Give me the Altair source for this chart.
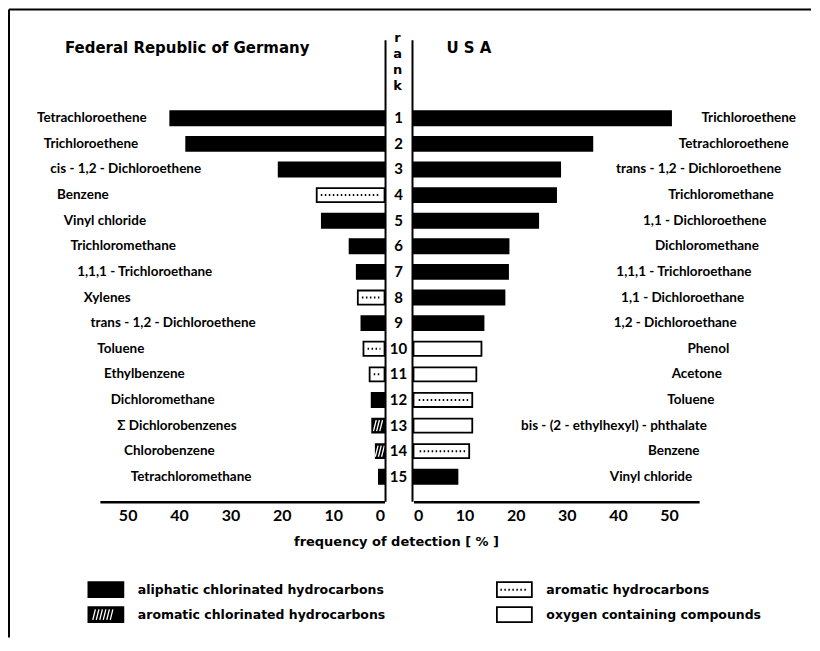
import altair as alt
import pandas as pd

# ---------------- data ----------------
ranks = list(range(1, 16))

de_names = ["Tetrachloroethene", "Trichloroethene", "cis - 1,2 - Dichloroethene", "Benzene",
            "Vinyl  chloride", "Trichloromethane", "1,1,1 - Trichloroethane", "Xylenes",
            "trans - 1,2 - Dichloroethene", "Toluene", "Ethylbenzene", "Dichloromethane",
            "Σ  Dichlorobenzenes", "Chlorobenzene", "Tetrachloromethane"]
de_values = [41.7, 38.6, 20.6, 13.2, 12.2, 6.8, 5.4, 5.2, 4.5, 4.1, 2.9, 2.5, 2.4, 1.7, 1.1]
de_groups = ["aliph", "aliph", "aliph", "arom", "aliph", "aliph", "aliph", "arom",
             "aliph", "arom", "arom", "aliph", "aromCl", "aromCl", "aliph"]

us_names = ["Trichloroethene", "Tetrachloroethene", "trans - 1,2 - Dichloroethene", "Trichloromethane",
            "1,1 - Dichloroethene", "Dichloromethane", "1,1,1 - Trichloroethane", "1,1 - Dichloroethane",
            "1,2 - Dichloroethane", "Phenol", "Acetone", "Toluene",
            "bis - (2 - ethylhexyl) - phthalate", "Benzene", "Vinyl chloride"]
us_values = [50.4, 35.0, 28.7, 27.9, 24.4, 18.6, 18.5, 17.8, 13.7, 13.3, 12.3, 11.5, 11.5, 10.9, 8.6]
us_groups = ["aliph"] * 9 + ["oxy", "oxy", "arom", "oxy", "arom", "aliph"]

group_keys = ["aliph", "aromCl", "arom", "oxy"]
group_labels = ["aliphatic  chlorinated  hydrocarbons", "aromatic  chlorinated  hydrocarbons",
                "aromatic  hydrocarbons", "oxygen  containing  compounds"]
legend_col = [0, 0, 1, 1]
legend_row = [0, 1, 0, 1]
tick_values = [0, 10, 20, 30, 40, 50]

# ---------------- styling ----------------
NARROW = "Lato, sans-serif"
WIDE = "DejaVu Sans, sans-serif"
HATCH_BAR = "M-0.7,0.8L-0.3,-0.8M-0.25,0.8L0.15,-0.8M0.2,0.8L0.6,-0.8"
HATCH_LEG = ("M-0.75,0.3L-0.6,-0.3M-0.55,0.3L-0.4,-0.3M-0.35,0.3L-0.2,-0.3"
             "M-0.15,0.3L0,-0.3M0.05,0.3L0.2,-0.3M0.25,0.3L0.4,-0.3")
RECT_LEG = "M-1,-0.43H1V0.43H-1Z"
DOT_LEG = "M-0.8,0H0.8"

de = pd.DataFrame({"rank": ranks, "name": de_names, "value": de_values, "group": de_groups})
us = pd.DataFrame({"rank": ranks, "name": us_names, "value": us_values, "group": us_groups})
leg = pd.DataFrame({"group": group_keys, "label": group_labels, "col": legend_col, "row": legend_row})
one = pd.DataFrame({"k": [0]})

yscale = alt.Scale(domain=ranks, range=[97.2, 481.8], paddingInner=0.45, paddingOuter=0.225)
fill_scale = alt.Scale(domain=group_keys, range=["black", "black", "white", "white"])
Y = alt.Y("rank:O", scale=yscale, axis=None)

axis_style = dict(values=tick_values, orient="bottom", offset=-136, title=None, grid=False, ticks=False,
                  domainColor="black", domainWidth=2.5, labelFont=NARROW, labelFontSize=16,
                  labelFontWeight="bold", labelColor="black", labelPadding=6)


def side(df, xdomain, xrange, lab_range, lab_align):
    xs = alt.Scale(domain=xdomain, range=xrange, nice=False)
    base = alt.Chart(df)
    bars = base.mark_bar(stroke="black", strokeWidth=1.8).encode(
        x=alt.X("value:Q", scale=xs, axis=alt.Axis(**axis_style)),
        y=Y,
        fill=alt.Fill("group:N", scale=fill_scale, legend=None),
    )
    dots = base.transform_filter("datum.group == 'arom'").transform_calculate(
        v1="datum.value - 0.8"
    ).mark_rule(strokeDash=[1.5, 2.5], strokeWidth=2, color="black").encode(
        x=alt.X("v1:Q", scale=xs, axis=None), x2=alt.datum(0.8), y=Y
    )
    hatch = base.transform_filter("datum.group == 'aromCl'").transform_calculate(
        h="datum.value / 2"
    ).mark_point(shape=HATCH_BAR, size=196, color="white", strokeWidth=1.3, opacity=1, filled=False).encode(
        x=alt.X("h:Q", scale=xs, axis=None), y=Y
    )
    labels = base.mark_text(align=lab_align, baseline="middle", font=NARROW, fontSize=13.5,
                            fontWeight="bold", color="black").encode(
        x=alt.X("rank:Q", scale=alt.Scale(domain=[1, 15], range=lab_range), axis=None),
        y=Y,
        text="name:N",
    )
    return [bars, dots, hatch, labels]


left_layers = side(de, [0, 55.4], [377, 92], [29, 122.9], "left")
right_layers = side(us, [0, 55.9], [406, 692], [789, 685], "right")

rank_nums = alt.Chart(de).mark_text(font=NARROW, fontSize=15, fontWeight="bold", color="black",
                                    baseline="middle", align="center").encode(
    x=alt.value(391), y=Y, text="rank:N"
)

vlines = [
    alt.Chart(one).mark_rule(color="black", strokeWidth=2).encode(
        x=alt.value(xv), y=alt.value(32), y2=alt.value(494))
    for xv in (378, 405)
]

frame = [
    alt.Chart(one).mark_rule(color="black", strokeWidth=2).encode(
        x=alt.value(1), x2=alt.value(804), y=alt.value(1)),
    alt.Chart(one).mark_rule(color="black", strokeWidth=2).encode(
        x=alt.value(1), y=alt.value(1), y2=alt.value(630)),
]

title_de = alt.Chart(one).mark_text(text="Federal Republic of Germany", font=WIDE, fontSize=15,
                                    fontWeight="bold", align="left", baseline="middle",
                                    color="black").encode(x=alt.value(57), y=alt.value(40))
title_us = alt.Chart(one).mark_text(text="U S A", font=WIDE, fontSize=15, fontWeight="bold",
                                    align="left", baseline="middle",
                                    color="black").encode(x=alt.value(439), y=alt.value(40))
rank_word = alt.Chart(one).mark_text(text=["r", "a", "n", "k"], lineHeight=16, font=WIDE,
                                     fontSize=13, fontWeight="bold", align="center",
                                     baseline="middle", color="black").encode(
    x=alt.value(390), y=alt.value(30))
xtitle = alt.Chart(one).mark_text(text="frequency of detection  [ % ]", font=WIDE, fontSize=13,
                                  fontWeight="bold", align="center", baseline="middle",
                                  color="black").encode(x=alt.value(389), y=alt.value(534))

# ---------------- legend (drawn from the legend table) ----------------
lx = alt.Scale(domain=[0, 1], range=[98, 507])
ly = alt.Scale(domain=[0, 1], range=[582, 607])
LX = alt.X("col:Q", scale=lx, axis=None)
LY = alt.Y("row:Q", scale=ly, axis=None)
leg_base = alt.Chart(leg)
leg_sw = leg_base.mark_point(shape=RECT_LEG, size=1225, filled=True, stroke="black",
                             strokeWidth=1.8, opacity=1).encode(
    x=LX, y=LY, fill=alt.Fill("group:N", scale=fill_scale, legend=None))
leg_dots = leg_base.transform_filter("datum.group == 'arom'").mark_point(
    shape=DOT_LEG, size=1225, filled=False, color="black", strokeWidth=2,
    strokeDash=[1.5, 2.5], opacity=1).encode(x=LX, y=LY)
leg_hatch = leg_base.transform_filter("datum.group == 'aromCl'").mark_point(
    shape=HATCH_LEG, size=1225, filled=False, color="white", strokeWidth=1.3, opacity=1).encode(x=LX, y=LY)
leg_txt = leg_base.mark_text(align="left", baseline="middle", dx=32, font=WIDE, fontSize=12.5,
                             fontWeight="bold", color="black").encode(x=LX, y=LY, text="label:N")

chart = alt.layer(
    *left_layers, *right_layers, rank_nums, *vlines, *frame, title_de, title_us, rank_word, xtitle,
    leg_sw, leg_dots, leg_hatch, leg_txt
).resolve_scale(x="independent", y="independent").properties(
    width=804, height=630, padding=0
).configure_view(stroke=None)

chart.save("out.html", embed_options={"renderer": "svg", "actions": False})
